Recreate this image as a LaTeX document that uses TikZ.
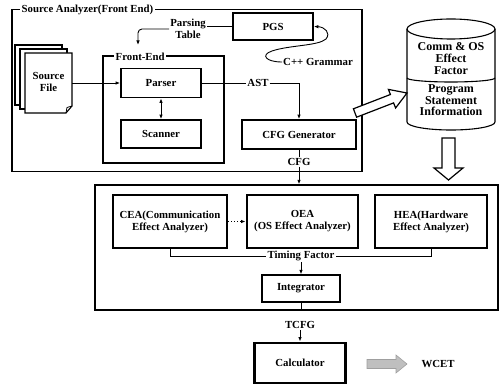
\documentclass[tikz,border=0pt]{standalone}
\usepackage{fontspec}
\setmainfont{Liberation Serif}
\usetikzlibrary{arrows.meta}
\begin{document}
\begin{tikzpicture}[x=1pt,y=-1pt,
  font=\fontsize{10.8}{12}\selectfont\bfseries,
  box/.style={draw, line width=1.7pt, fill=white, inner sep=0pt, align=center},
  thickbox/.style={box, line width=2.9pt},
  thinbox/.style={box, line width=1.2pt},
  frame/.style={draw, line width=1.6pt, inner sep=0pt},
  lbl/.style={inner sep=1.5pt, fill=white},
  conn/.style={line width=0.9pt},
  arr/.style={conn, -{Latex[length=4.5pt,width=3.5pt]}},
  dbl/.style={conn, {Latex[length=4.5pt,width=3.5pt]}-{Latex[length=4.5pt,width=3.5pt]}},
  hollow/.style={draw, line width=1.2pt, fill=white, line join=miter},
  page/.style={draw, line width=1.1pt, fill=white},
  cyl/.style={draw, line width=1.1pt}]
\useasboundingbox (0,0) rectangle (503,385);

% frames
\node[frame, minimum width=350, minimum height=162] (fa) at (187,90.5) {};
\node[lbl, anchor=west] (titleA) at (20,10) {Source Analyzer(Front End)};
\node[frame, minimum width=121, minimum height=107] (fe) at (163.5,109.5) {};
\node[lbl, anchor=west] (titleFE) at (114,57) {Front-End};
\node[frame, line width=1.3pt, minimum width=403, minimum height=125] (lower) at (296.5,247.5) {};

% source file pages
\draw[page] (15,45) rectangle (62,105);
\draw[page] (20,49) rectangle (67,109);
\draw[page] (25,53) -- (72,53) -- (72,106) -- (66,113) -- (25,113) -- cycle;
\draw[line width=0.8pt] (72,106) -- (67,107.5) -- (66,113);
\node[align=center, minimum width=47, minimum height=60, inner sep=0pt] (src) at (48.5,82) {Source\\File};

% boxes
\node[box, minimum width=80, minimum height=29] (parser) at (161,83) {Parser};
\node[box, minimum width=80, minimum height=28] (scanner) at (161,134) {Scanner};
\node[box, minimum width=80, minimum height=27] (pgs) at (273,26.5) {PGS};
\node[box, minimum width=114, minimum height=29] (cfggen) at (299,134.5) {CFG Generator};

\node[thickbox, minimum width=114, minimum height=53] (cea) at (170,221.5) {CEA(Communication\\Effect Analyzer)};
\node[thickbox, minimum width=111, minimum height=53] (oea) at (302.5,221.5) {OEA\\(OS Effect Analyzer)};
\node[thinbox, minimum width=112, minimum height=53] (hea) at (431,221.5) {HEA(Hardware\\Effect Analyzer)};
\node[thinbox, minimum width=78, minimum height=27] (integ) at (301,288.5) {Integrator};
\node[thickbox, minimum width=91, minimum height=40] (calc) at (300,363) {Calculator};

% labels
\node[align=center, inner sep=1pt] (pt) at (188,29) {Parsing\\Table};
\node[inner sep=1pt] (ast) at (258,83) {AST};
\node[inner sep=1pt] (cpp) at (318,62) {C++ Grammar};
\node[inner sep=1pt] (cfg) at (299,162) {CFG};
\node[inner sep=1pt] (tf) at (301,256) {Timing Factor};
\node[inner sep=1pt] (tcfg) at (300,325) {TCFG};
\node[inner sep=1pt] (wcet) at (438,364) {WCET};

% connectors
\coordinate (ptend) at (138,45);
\draw[conn] (pgs.west) -- (pgs.west -| pt.east);
\draw[arr, rounded corners=4pt] (pt.west) -| (ptend);
\draw[arr] (src.east |- parser.west) -- (parser.west);
\draw[dbl] (parser.south) -- (scanner.north);
\draw[conn] (parser.east) -- (ast.west);
\draw[arr] (ast.east) -| (cfggen.north);
\draw[arr] (cpp.west) .. controls (266,62) and (260,55) .. (272,51)
   .. controls (290,45) and (318,46) .. (326,39)
   .. controls (331,33) and (325,27) .. (pgs.east);
\draw[conn] (cfggen.south) -- (cfg.north);
\draw[arr] (cfg.south) -- (cfg.south |- lower.north);
\draw[arr, dotted] (cea.east) -- (oea.west);
\draw[conn] (cea.south) |- (tf.west);
\draw[conn] (hea.south) |- (tf.east);
\draw[arr] (tf.south) -- (integ.north);
\draw[conn] (integ.south) -- (integ.south |- lower.south);
\draw[arr] (tcfg.south) -- (calc.north);

% database cylinder
\draw[cyl, fill=white] (407,29) -- (407,122) arc[start angle=180, end angle=360, x radius=44pt, y radius=8pt] -- (495,29);
\draw[cyl] (451,29) ellipse [x radius=44pt, y radius=10pt];
\draw[cyl] (407,78) arc[start angle=180, end angle=360, x radius=44pt, y radius=4pt];
\node[align=center, font=\fontsize{12}{12}\selectfont\bfseries] (db1) at (451,59) {Comm \& OS\\Effect\\Factor};
\node[align=center, font=\fontsize{12}{11.5}\selectfont\bfseries] (db2) at (451,100.5) {Program\\Statement\\Information};

% hollow arrows
\draw[hollow] (356.6,117.2) -- (393.6,102.9) -- (395.6,108.0) -- (407,93) -- (388.4,89.4) -- (390.4,94.5) -- (353.4,108.8) -- cycle;
\draw[hollow] (442,138) -- (455,138) -- (455,168) -- (463,168) -- (448.5,180) -- (434,168) -- (442,168) -- cycle;
\draw[fill=gray!50, draw=gray!75, line width=0.6pt] (367,359.5) -- (396,359.5) -- (396,355) -- (407,364) -- (396,373) -- (396,368.5) -- (367,368.5) -- cycle;
\end{tikzpicture}
\end{document}
